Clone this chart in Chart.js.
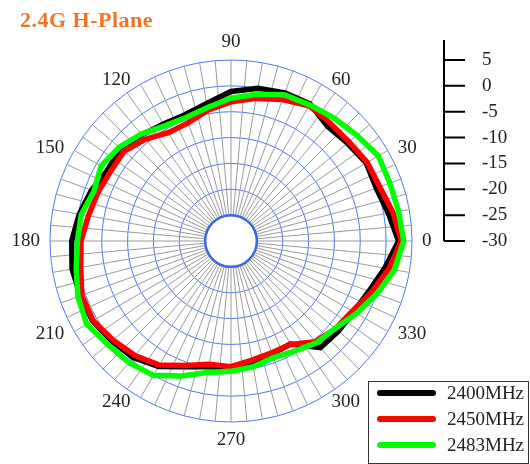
<!DOCTYPE html>
<html>
<head>
  <title>2.4G H-Plane</title>
  <script src="https://cdn.jsdelivr.net/npm/chart.js@4.4.1/dist/chart.umd.min.js"></script>
  <style>
    body { margin: 0; background: #fff; }
  </style>
</head>
<body>
  <canvas id="polarChart" width="530" height="464"></canvas>
  <script>
    // measured every 10 degrees, counter-clockwise from 0 (right)
    const angles = [0, 10, 20, 30, 40, 50, 60, 70, 80, 90, 100, 110, 120, 130, 140, 150, 160, 170,
      180, 190, 200, 210, 220, 230, 240, 250, 260, 270, 280, 290, 300, 310, 320, 330, 340, 350];
    const gain2400 = [2.4, 0.9, -0.1, 0.2, -0.6, -1.0, 0.6, 0.5, 0.0, -1.1, -3.0, -4.0, -3.9, -3.2, -2.0, -2.5, -1.3, -0.2,
      0.8, 1.2, 1.0, 0.9, 0.1, -0.6, -2.0, -4.1, -5.3, -5.5, -6.3, -6.8, -7.0, -3.1, -2.9, -2.6, -1.6, 0.2];
    const gain2450 = [2.9, 1.8, 0.6, 0.4, -0.2, -0.2, 0.2, -0.9, -2.0, -3.1, -4.3, -5.7, -5.8, -4.3, -3.0, -3.1, -2.6, -2.0,
      -1.0, -0.5, 0.7, 0.8, -0.2, -1.1, -2.3, -4.4, -5.8, -5.7, -6.6, -7.0, -6.9, -4.6, -3.6, -2.9, -1.1, 1.0];
    const gain2483 = [3.4, 2.9, 2.7, 2.9, 1.8, 1.0, 0.4, 0.1, -1.2, -2.4, -3.8, -4.6, -4.3, -3.0, -1.8, -1.0, -1.8, -0.6,
      -0.3, 0.4, 1.5, 2.2, 1.1, 0.7, 0.0, -2.2, -4.2, -4.8, -5.3, -6.0, -5.4, -4.3, -3.7, -2.0, 0.0, 2.1];
    const seriesNames = ['2400MHz', '2450MHz', '2483MHz'];
    const seriesColors = ['#000000', '#ff0000', '#00ff00'];
    const angleLabels = ['0', '30', '60', '90', '120', '150', '180', '210', '240', '270', '300', '330'];
    const dbTicks = [5, 0, -5, -10, -15, -20, -25, -30];

    // one spoke every 5 degrees, clockwise order for the library
    const spokes = [];
    for (let i = 0; i < 72; i++) spokes.push((360 - 5 * i) % 360);

    function onSpokes(values) {
      return spokes.map(a => {
        const k = angles.indexOf(a);
        return k >= 0 ? values[k] : null;
      });
    }

    const serif = '"Liberation Serif", "DejaVu Serif", serif';

    const extras = {
      id: 'extras',
      beforeDatasetsDraw(chart) {
        const r = chart.scales.r;
        const ctx = chart.ctx;
        ctx.save();
        ctx.beginPath();
        ctx.arc(r.xCenter, r.yCenter, r.getDistanceFromCenterForValue(-25), 0, Math.PI * 2);
        ctx.fillStyle = '#ffffff';
        ctx.fill();
        ctx.lineWidth = 2.5;
        ctx.strokeStyle = '#3a66e8';
        ctx.stroke();
        ctx.restore();
      },
      afterDraw(chart) {
        const r = chart.scales.r;
        const ctx = chart.ctx;
        const outer = r.getDistanceFromCenterForValue(5);
        ctx.save();

        // title
        ctx.font = 'bold 22px ' + serif;
        ctx.fillStyle = '#f07328';
        ctx.textAlign = 'left';
        ctx.textBaseline = 'middle';
        ctx.letterSpacing = '0.5px';
        ctx.fillText('2.4G H-Plane', 20, 21);
        ctx.letterSpacing = '0px';

        // angle labels
        ctx.font = '19px ' + serif;
        ctx.fillStyle = '#222';
        angleLabels.forEach(t => {
          const th = Number(t) * Math.PI / 180;
          const c = Math.cos(th), s = Math.sin(th);
          let x = r.xCenter + outer * c;
          let y = r.yCenter - outer * s;
          if (Math.abs(c) < 0.01) {
            ctx.textAlign = 'center';
            y -= s * 18;
          } else {
            ctx.textAlign = c > 0 ? 'left' : 'right';
            x += c > 0 ? 10 : -10;
            y -= s * 5;
          }
          ctx.fillText(t, x, y);
        });

        // dB scale bar
        const bx = 444;
        ctx.strokeStyle = '#000';
        ctx.lineWidth = 2;
        ctx.beginPath();
        ctx.moveTo(bx, 40);
        ctx.lineTo(bx, r.yCenter);
        dbTicks.forEach(v => {
          const y = r.yCenter - r.getDistanceFromCenterForValue(v);
          ctx.moveTo(bx, y);
          ctx.lineTo(bx + 21, y);
        });
        ctx.stroke();
        ctx.textAlign = 'left';
        dbTicks.forEach(v => {
          const y = r.yCenter - r.getDistanceFromCenterForValue(v);
          ctx.fillText(String(v), bx + 38, y);
        });

        // legend
        ctx.lineWidth = 1;
        ctx.strokeStyle = '#333';
        ctx.strokeRect(368.5, 381.5, 160, 82);
        chart.data.datasets.forEach((ds, i) => {
          const y = 393 + i * 26;
          ctx.strokeStyle = ds.borderColor;
          ctx.lineWidth = 6;
          ctx.lineCap = 'round';
          ctx.beginPath();
          ctx.moveTo(380, y);
          ctx.lineTo(433, y);
          ctx.stroke();
          ctx.fillStyle = '#222';
          ctx.fillText(ds.label, 447, y + 1);
        });
        ctx.restore();
      }
    };

    const ctx = document.getElementById('polarChart').getContext('2d');
    const polarChart = new Chart(ctx, {
      type: 'radar',
      data: {
        labels: spokes,
        datasets: [gain2400, gain2450, gain2483].map((vals, i) => ({
          label: seriesNames[i],
          data: onSpokes(vals),
          borderColor: seriesColors[i],
          borderWidth: 5.5,
          pointRadius: 0,
          fill: false,
          spanGaps: true,
          order: 2 - i
        }))
      },
      options: {
        responsive: false,
        animation: false,
        layout: { padding: { left: 50, right: 117, top: 60, bottom: 42 } },
        plugins: { legend: { display: false }, tooltip: { enabled: false } },
        scales: {
          r: {
            min: -30,
            max: 5,
            startAngle: 90,
            ticks: { display: false, stepSize: 5 },
            pointLabels: { display: false },
            grid: { color: '#4f78f0', lineWidth: 1, circular: false },
            angleLines: { color: '#9a9a9a', lineWidth: 1 }
          }
        }
      },
      plugins: [extras]
    });
  </script>
</body>
</html>
